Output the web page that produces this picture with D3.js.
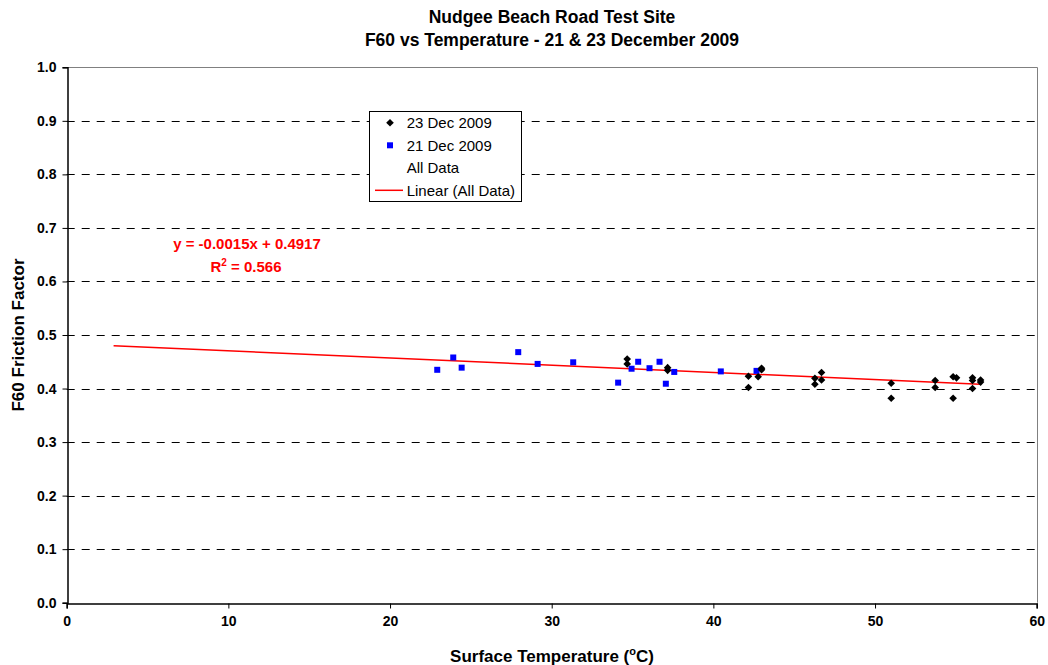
<!DOCTYPE html>
<html><head><meta charset="utf-8">
<script src="https://cdn.jsdelivr.net/npm/d3@7"></script>
<style>body{margin:0;background:#fff}svg{display:block;font-family:"Liberation Sans",Arial,sans-serif}</style>
</head><body><svg id="c" width="1048" height="665"></svg>
<script>
const dec21X = [22.92,23.91,24.43,27.93,29.13,31.33,34.11,34.94,35.35,36.05,36.67,37.06,37.58,40.46,42.67];
const dec21Y = [0.435,0.458,0.439,0.468,0.446,0.449,0.411,0.437,0.450,0.438,0.450,0.409,0.431,0.432,0.433];
const dec23X = [34.67,34.67,37.17,37.17,42.17,42.17,42.77,42.98,42.98,46.28,46.28,46.69,46.69,51.0,51.0,53.72,53.72,54.83,55.04,54.83,56.03,56.03,56.03,56.53,56.53];
const dec23Y = [0.455,0.446,0.439,0.434,0.423,0.402,0.422,0.438,0.435,0.419,0.408,0.430,0.416,0.410,0.382,0.415,0.402,0.422,0.420,0.382,0.420,0.415,0.400,0.416,0.412];
const trendX = [2.9, 56.5];
const trendY = [0.480, 0.408];
const xTicks = [0,10,20,30,40,50,60];
const yTicks = [0,0.1,0.2,0.3,0.4,0.5,0.6,0.7,0.8,0.9,1.0];
const legendLabels = ["23 Dec 2009","21 Dec 2009","All Data","Linear (All Data)"];
const titleLines = ["Nudgee Beach Road Test Site","F60 vs Temperature - 21 & 23 December 2009"];

const svg = d3.select("#c");
const L=66.7, R=1036.7, T=67.3, B=602.7;
const x = d3.scaleLinear().domain([0,60]).range([L,R]);
const y = d3.scaleLinear().domain([0,1]).range([B,T]);
const FONT = "'Liberation Sans',Arial,sans-serif";

// grid
svg.append("g").selectAll("line").data(yTicks.filter(d=>d>0&&d<1)).join("line")
  .attr("x1",L).attr("x2",R).attr("y1",d=>Math.round(y(d))+0.5).attr("y2",d=>Math.round(y(d))+0.5)
  .attr("stroke","#000").attr("stroke-width",1).attr("stroke-dasharray","8,7");
// plot border top/right
svg.append("path").attr("d",`M${L},${Math.round(T)+0.5}H${Math.round(R)+0.5}V${B}`)
  .attr("fill","none").attr("stroke","#808080").attr("stroke-width",1);

// axes
const yAxis = d3.axisLeft(y).tickValues(yTicks).tickFormat(d3.format(".1f")).tickSize(5).tickPadding(6);
const gy = svg.append("g").attr("transform",`translate(${Math.round(L)+0.5},0)`).call(yAxis);
const xAxis = d3.axisBottom(x).tickValues(xTicks).tickFormat(d3.format("d")).tickSize(5).tickPadding(8);
const gx = svg.append("g").attr("transform",`translate(0,${Math.round(B)+0.5})`).call(xAxis);
[gx,gy].forEach(g=>{
  g.attr("font-size",null).attr("font-family",null);
  g.select(".domain").attr("stroke","#000").attr("stroke-width",1.5);
  g.selectAll(".tick line").attr("stroke","#000");
  g.selectAll(".tick text").attr("fill","#000").style("font-size","14px").style("font-weight","bold").style("font-family",FONT);
});

// trend line
svg.append("line").attr("x1",x(trendX[0])).attr("y1",y(trendY[0])).attr("x2",x(trendX[1])).attr("y2",y(trendY[1]))
  .attr("stroke","#ff0000").attr("stroke-width",1.5);

// 21 Dec squares
svg.append("g").selectAll("rect").data(dec21X.map((v,i)=>[v,dec21Y[i]])).join("rect")
  .attr("x",d=>x(d[0])-3).attr("y",d=>y(d[1])-3).attr("width",6).attr("height",6).attr("fill","#0000ff");
// 23 Dec diamonds
const dia = "M0,-3.8L3.8,0L0,3.8L-3.8,0Z";
svg.append("g").selectAll("path").data(dec23X.map((v,i)=>[v,dec23Y[i]])).join("path")
  .attr("d",dia).attr("transform",d=>`translate(${x(d[0])},${y(d[1])})`).attr("fill","#000");

// equation
svg.append("text").attr("x",247).attr("y",249).attr("text-anchor","middle").attr("fill","#ff0000")
  .style("font-size","15px").style("font-weight","bold").text("y = -0.0015x + 0.4917");
const r2 = svg.append("text").attr("x",246).attr("y",272).attr("text-anchor","middle").attr("fill","#ff0000")
  .style("font-size","15px").style("font-weight","bold");
r2.append("tspan").text("R");
r2.append("tspan").attr("dy",-6).style("font-size","10px").text("2");
r2.append("tspan").attr("dy",6).text(" = 0.566");

// legend
const lg = svg.append("g");
lg.append("rect").attr("x",369.5).attr("y",111.5).attr("width",152).attr("height",90).attr("fill","#fff").attr("stroke","#000");
const rowsY = [122.7,145.3,167.7,190.3];
legendLabels.forEach((t,i)=>{
  lg.append("text").attr("x",406.7).attr("y",rowsY[i]+5.3).style("font-size","15px").attr("fill","#000").text(t);
});
lg.append("path").attr("d",dia).attr("transform",`translate(390,${rowsY[0]})`).attr("fill","#000");
lg.append("rect").attr("x",387).attr("y",rowsY[1]-3).attr("width",6).attr("height",6).attr("fill","#0000ff");
lg.append("line").attr("x1",375).attr("x2",403).attr("y1",rowsY[3]).attr("y2",rowsY[3]).attr("stroke","#ff0000").attr("stroke-width",1.5);

// titles
titleLines.forEach((t,i)=>{
  svg.append("text").attr("x",552).attr("y",23+i*23).attr("text-anchor","middle")
    .style("font-size","17.5px").style("font-weight","bold").text(t);
});
const xt = svg.append("text").attr("x",552).attr("y",662).attr("text-anchor","middle")
  .style("font-size","17px").style("font-weight","bold");
xt.append("tspan").text("Surface Temperature (");
xt.append("tspan").attr("dy",-7).style("font-size","11px").text("o");
xt.append("tspan").attr("dy",7).text("C)");
svg.append("text").attr("transform","translate(24,335) rotate(-90)").attr("text-anchor","middle")
  .style("font-size","17px").style("font-weight","bold").text("F60 Friction Factor");
</script></body></html>
